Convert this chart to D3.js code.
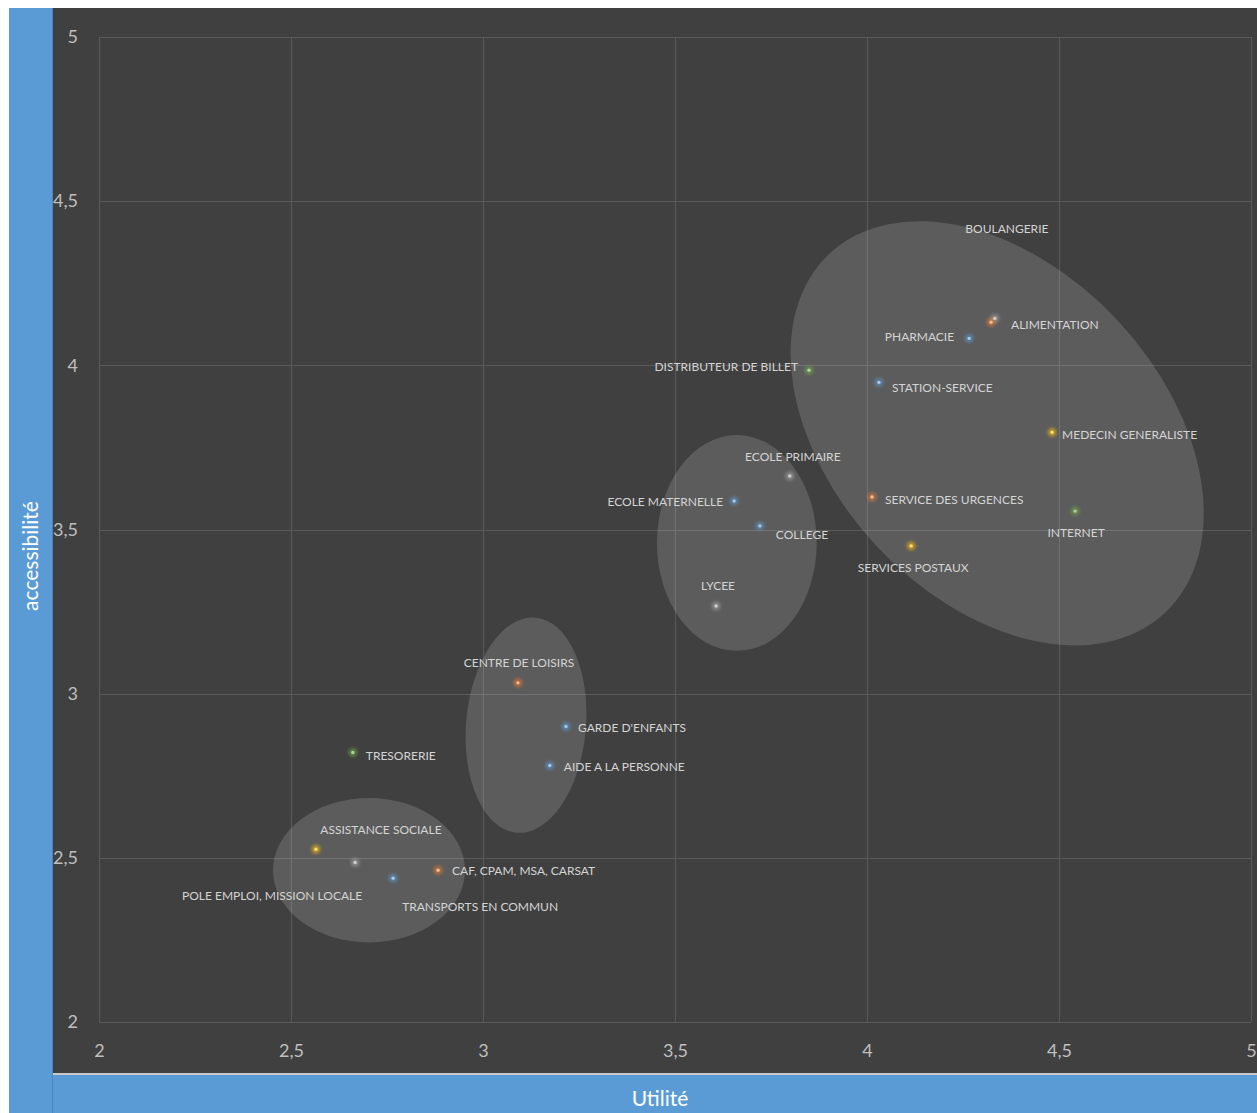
<!DOCTYPE html>
<html>
<head>
<meta charset="utf-8">
<script src="https://cdn.jsdelivr.net/npm/d3@7"></script>
<style>
  body { margin: 0; background: #fff; }
  svg { display: block; }
</style>
</head>
<body>
<svg id="chart"></svg>
<script>
// data
const services = ['BOULANGERIE', 'ALIMENTATION', 'PHARMACIE', 'DISTRIBUTEUR DE BILLET', 'STATION-SERVICE',
  'MEDECIN GENERALISTE', 'SERVICE DES URGENCES', 'INTERNET', 'SERVICES POSTAUX', 'ECOLE PRIMAIRE',
  'ECOLE MATERNELLE', 'COLLEGE', 'LYCEE', 'CENTRE DE LOISIRS', "GARDE D'ENFANTS", 'AIDE A LA PERSONNE',
  'TRESORERIE', 'ASSISTANCE SOCIALE', 'POLE EMPLOI, MISSION LOCALE', 'TRANSPORTS EN COMMUN', 'CAF, CPAM, MSA, CARSAT'];
const utilite = [4.333, 4.323, 4.266, 3.849, 4.031, 4.482, 4.013, 4.542, 4.115, 3.799,
  3.654, 3.721, 3.607, 3.091, 3.216, 3.174, 2.661, 2.565, 2.667, 2.766, 2.883];
const accessibilite = [4.143, 4.131, 4.082, 3.985, 3.948, 3.796, 3.599, 3.556, 3.450, 3.663,
  3.587, 3.511, 3.267, 3.033, 2.900, 2.781, 2.821, 2.526, 2.486, 2.438, 2.462];
const seriesIdx = [2, 1, 0, 4, 0, 3, 1, 4, 3, 2, 0, 0, 2, 1, 0, 0, 4, 3, 2, 0, 1];
const ticks = [2, 2.5, 3, 3.5, 4, 4.5, 5];

// groups circled on the chart (centre in data units, radii in x-units)
const groups = [
  { cx: 4.339, cy: 3.793, rx: 0.64, ry: 0.43, rot: 47 },
  { cx: 3.661, cy: 3.459, rx: 0.208, ry: 0.281, rot: 0 },
  { cx: 3.112, cy: 2.904, rx: 0.156, ry: 0.281, rot: 5 },
  { cx: 2.703, cy: 2.462, rx: 0.25, ry: 0.188, rot: 0 }
];

const colors = ['#5b9bd5', '#ed7d31', '#a5a5a5', '#ffc000', '#70ad47'];

// label placement: [dx, dy, anchor]
const labelPlace = {
  'BOULANGERIE': [12, -90, 'middle'],
  'ALIMENTATION': [20, 2, 'start'],
  'PHARMACIE': [-15, -2, 'end'],
  'DISTRIBUTEUR DE BILLET': [-11, -3, 'end'],
  'STATION-SERVICE': [13, 5, 'start'],
  'MEDECIN GENERALISTE': [10, 2, 'start'],
  'SERVICE DES URGENCES': [13, 3, 'start'],
  'INTERNET': [1, 22, 'middle'],
  'SERVICES POSTAUX': [2, 22, 'middle'],
  'ECOLE PRIMAIRE': [3, -19, 'middle'],
  'ECOLE MATERNELLE': [-11, 1, 'end'],
  'COLLEGE': [16, 9, 'start'],
  'LYCEE': [2, -20, 'middle'],
  'CENTRE DE LOISIRS': [1, -20, 'middle'],
  "GARDE D'ENFANTS": [12, 1, 'start'],
  'AIDE A LA PERSONNE': [14, 1, 'start'],
  'TRESORERIE': [13, 3, 'start'],
  'ASSISTANCE SOCIALE': [65, -19, 'middle'],
  'POLE EMPLOI, MISSION LOCALE': [7, 33, 'end'],
  'TRANSPORTS EN COMMUN': [87, 29, 'middle'],
  'CAF, CPAM, MSA, CARSAT': [14, 0, 'start']
};

const W = 1257, H = 1113;
const margin = { top: 37, left: 99, right: 6, bottom: 91 };

const svg = d3.select('#chart').attr('width', W).attr('height', H);

const defs = svg.append('defs');
defs.append('filter').attr('id', 'glow').attr('x', '-100%').attr('y', '-100%').attr('width', '300%').attr('height', '300%')
  .append('feGaussianBlur').attr('stdDeviation', 1.8);

const x = d3.scaleLinear().domain([2, 5]).range([margin.left, W - margin.right]);
const y = d3.scaleLinear().domain([2, 5]).range([H - margin.bottom, margin.top]);

// background
svg.append('rect').attr('x', 9).attr('y', 8).attr('width', W - 9).attr('height', H - 8).attr('fill', '#404040');

// grid
const grid = svg.append('g');
grid.selectAll('.vg').data(ticks).enter().append('line')
  .attr('x1', d => Math.round(x(d)) + 0.5).attr('x2', d => Math.round(x(d)) + 0.5)
  .attr('y1', y(5)).attr('y2', y(2))
  .attr('stroke', '#5a5a5a').attr('stroke-width', 1);
grid.selectAll('.hg').data(ticks).enter().append('line')
  .attr('y1', d => Math.round(y(d)) + 0.5).attr('y2', d => Math.round(y(d)) + 0.5)
  .attr('x1', x(2)).attr('x2', x(5))
  .attr('stroke', '#5a5a5a').attr('stroke-width', 1);

// ellipses
const kx = x(1) - x(0);
svg.append('g').selectAll('ellipse').data(groups).enter().append('ellipse')
  .attr('transform', d => `translate(${x(d.cx)},${y(d.cy)}) rotate(${d.rot})`)
  .attr('rx', d => d.rx * kx).attr('ry', d => d.ry * kx)
  .attr('fill', '#ffffff').attr('fill-opacity', 0.15);

// axes
const fmt = d => String(d).replace('.', ',');
const xAxis = d3.axisBottom(x).tickValues(ticks).tickFormat(fmt).tickSize(0).tickPadding(22);
const yAxis = d3.axisLeft(y).tickValues(ticks).tickFormat(fmt).tickSize(0).tickPadding(21);

const xAxisG = svg.append('g').attr('transform', `translate(0,${y(2)})`).call(xAxis);
const yAxisG = svg.append('g').attr('transform', `translate(${x(2)},0)`).call(yAxis);
[xAxisG, yAxisG].forEach(g => {
  g.select('.domain').remove();
  g.selectAll('text').attr('fill', '#bfbfbf').style('font-family', 'Lato, sans-serif').style('font-size', '18px');
});

// blue title bars (drawn over the y labels, which they clip)
svg.append('rect').attr('x', 9).attr('y', 8).attr('width', 44).attr('height', H - 8).attr('fill', '#5b9bd5');
svg.append('line').attr('x1', 52.5).attr('x2', 52.5).attr('y1', 8).attr('y2', H).attr('stroke', '#4a86bd').attr('stroke-width', 1);
svg.append('rect').attr('x', 53).attr('y', 1075).attr('width', W - 53).attr('height', H - 1075).attr('fill', '#5b9bd5');
svg.append('line').attr('x1', 53).attr('x2', W).attr('y1', 1074).attr('y2', 1074).attr('stroke', '#c9c9c9').attr('stroke-width', 2);

// points
const pts = services.map((s, i) => ({ name: s, u: utilite[i], a: accessibilite[i], c: colors[seriesIdx[i]] }));
const ptG = svg.append('g');
ptG.selectAll('.glow').data(pts).enter().append('circle')
  .attr('cx', d => x(d.u)).attr('cy', d => y(d.a)).attr('r', 4.5)
  .attr('fill', d => d.c).attr('fill-opacity', 0.55)
  .attr('filter', 'url(#glow)');
ptG.selectAll('.dot').data(pts).enter().append('circle')
  .attr('cx', d => x(d.u)).attr('cy', d => y(d.a)).attr('r', 1.7)
  .attr('fill', d => d3.interpolateRgb(d.c, '#ffffff')(0.45));

// labels
svg.append('g').selectAll('text').data(pts).enter().append('text')
  .attr('x', d => x(d.u) + labelPlace[d.name][0])
  .attr('y', d => y(d.a) + labelPlace[d.name][1])
  .attr('dy', '0.35em')
  .attr('text-anchor', d => labelPlace[d.name][2])
  .attr('fill', '#d4d4d4')
  .style('font-family', 'Lato, sans-serif').style('font-size', '12px')
  .text(d => d.name);

// axis titles
svg.append('text').attr('x', 660).attr('y', 1099).attr('dy', '0.35em').attr('text-anchor', 'middle')
  .attr('fill', '#ffffff').style('font-family', 'Lato, sans-serif').style('font-size', '21px').text('Utilité');
svg.append('text').attr('transform', 'translate(31,556) rotate(-90)').attr('dy', '0.35em').attr('text-anchor', 'middle')
  .attr('fill', '#ffffff').style('font-family', 'Lato, sans-serif').style('font-size', '21px').text('accessibilité');
</script>
</body>
</html>
